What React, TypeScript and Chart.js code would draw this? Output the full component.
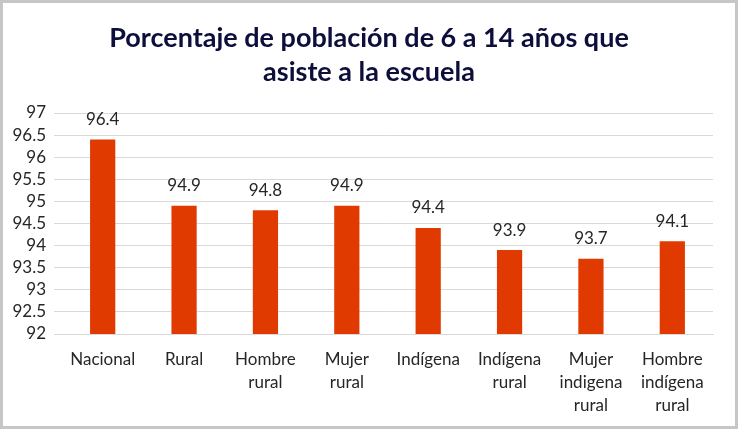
import React, { useEffect, useRef } from "react";
import { Chart, registerables } from "chart.js";

Chart.register(...registerables);

const titleLines = ["Porcentaje de población de 6 a 14 años que", "asiste a la escuela"];
const categories: string[][] = [
  ["Nacional"],
  ["Rural"],
  ["Hombre", "rural"],
  ["Mujer", "rural"],
  ["Indígena"],
  ["Indígena", "rural"],
  ["Mujer", "indigena", "rural"],
  ["Hombre", "indígena", "rural"],
];
const values = [96.4, 94.9, 94.8, 94.9, 94.4, 93.9, 93.7, 94.1];
const yMin = 92;
const yMax = 97;
const yStep = 0.5;

const FONT = "Lato, 'Noto Sans', sans-serif";

export default function App() {
  const ref = useRef<HTMLCanvasElement>(null);
  useEffect(() => {
    document.body.style.margin = "0";
    const bgPlugin = {
      id: "bg",
      beforeDraw(chart: any) {
        const { ctx, width, height } = chart;
        ctx.save();
        ctx.fillStyle = "#ffffff";
        ctx.fillRect(0, 0, width, height);
        ctx.strokeStyle = "#c6c6c6";
        ctx.lineWidth = 3;
        ctx.strokeRect(1.5, 1.5, width - 3, height - 3);
        ctx.fillStyle = "#0e0e3c";
        ctx.font = `bold 27px ${FONT}`;
        ctx.textAlign = "center";
        ctx.textBaseline = "middle";
        ctx.fillText(titleLines[0], 369, 38);
        ctx.fillText(titleLines[1], 369, 72);
        ctx.restore();
      },
    };
    const labelPlugin = {
      id: "labels",
      afterDatasetsDraw(chart: any) {
        const { ctx } = chart;
        const meta = chart.getDatasetMeta(0);
        ctx.save();
        ctx.fillStyle = "#262626";
        ctx.font = `17px ${FONT}`;
        ctx.textAlign = "center";
        ctx.textBaseline = "middle";
        meta.data.forEach((bar: any, i: number) => {
          ctx.fillText(values[i].toFixed(1), bar.x, bar.y - 20);
        });
        ctx.restore();
      },
    };
    const chart = new Chart(ref.current!, {
      type: "bar",
      data: {
        labels: categories,
        datasets: [
          {
            data: values,
            backgroundColor: "#e03a00",
            barPercentage: 0.31,
            categoryPercentage: 1,
          },
        ],
      },
      options: {
        animation: false,
        responsive: false,
        layout: { padding: { top: 113, right: 25, bottom: 0, left: 0 } },
        plugins: { legend: { display: false }, tooltip: { enabled: false } },
        scales: {
          x: {
            grid: { display: false },
            border: { color: "#d9d9d9" },
            ticks: {
              color: "#262626",
              font: { family: FONT, size: 17, lineHeight: 1.35 },
              padding: 6,
              maxRotation: 0,
              autoSkip: false,
            },
            afterFit(s: any) {
              s.height = 95;
            },
          },
          y: {
            min: yMin,
            max: yMax,
            grid: { color: "#d9d9d9" },
            border: { display: false },
            ticks: {
              stepSize: yStep,
              autoSkip: false,
              color: "#262626",
              font: { family: FONT, size: 17 },
              padding: 8,
              callback: (v: any) => String(Number(v)),
            },
            afterFit(s: any) {
              s.width = 62;
            },
          },
        },
      },
      plugins: [bgPlugin, labelPlugin],
    });
    return () => chart.destroy();
  }, []);
  return <canvas ref={ref} width={738} height={429} style={{ display: "block" }} />;
}
